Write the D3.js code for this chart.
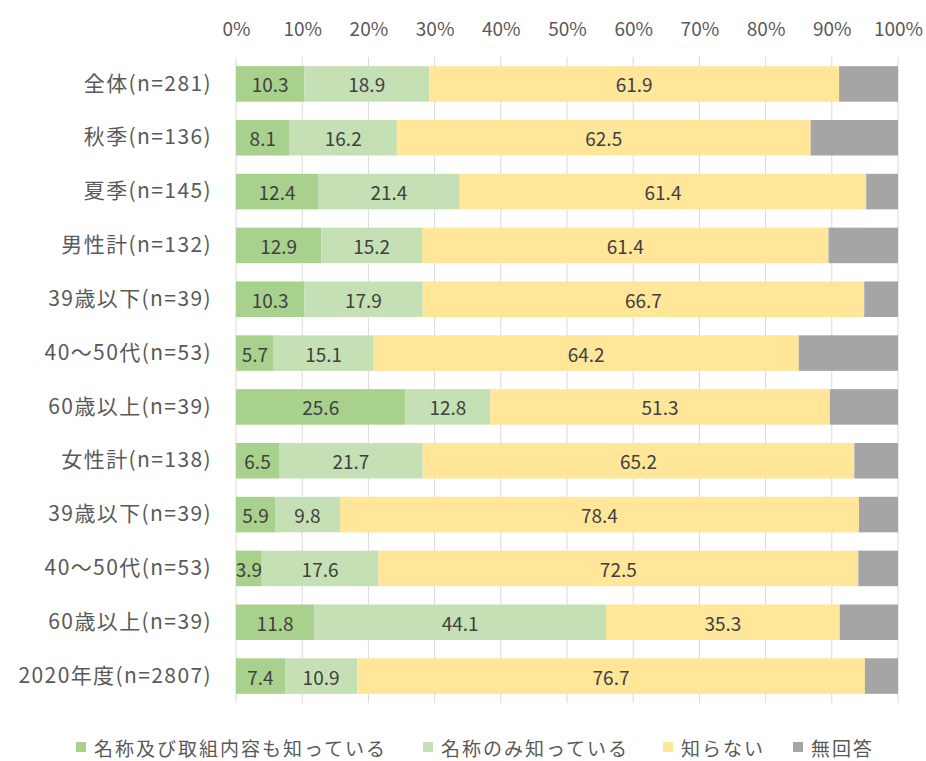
<!DOCTYPE html>
<html>
<head>
<meta charset="utf-8">
<script src="https://cdn.jsdelivr.net/npm/d3@7"></script>
<style>
  html, body { margin: 0; padding: 0; background: #ffffff; }
  svg text { font-family: "Noto Sans CJK JP", "Noto Sans", sans-serif; }
</style>
</head>
<body>
<svg id="chart" width="926" height="761"></svg>
<script>
// Survey groups (top to bottom)
const categories = [
  "全体(n=281)", "秋季(n=136)", "夏季(n=145)", "男性計(n=132)",
  "39歳以下(n=39)", "40～50代(n=53)", "60歳以上(n=39)", "女性計(n=138)",
  "39歳以下(n=39)", "40～50代(n=53)", "60歳以上(n=39)", "2020年度(n=2807)"
];

// Answer shares (%) per group
const knowsNameAndContent = [10.3, 8.1, 12.4, 12.9, 10.3, 5.7, 25.6, 6.5, 5.9, 3.9, 11.8, 7.4];
const knowsNameOnly       = [18.9, 16.2, 21.4, 15.2, 17.9, 15.1, 12.8, 21.7, 9.8, 17.6, 44.1, 10.9];
const doesNotKnow         = [61.9, 62.5, 61.4, 61.4, 66.7, 64.2, 51.3, 65.2, 78.4, 72.5, 35.3, 76.7];
const noAnswer            = [8.9, 13.2, 4.8, 10.5, 5.1, 15.0, 10.3, 6.6, 5.9, 6.0, 8.8, 5.0];

const seriesNames = ["名称及び取組内容も知っている", "名称のみ知っている", "知らない", "無回答"];
const seriesColors = ["#a9d18e", "#c5e0b4", "#ffe699", "#a5a5a5"];
const seriesLabeled = [true, true, true, false];
const tickValues = [0, 10, 20, 30, 40, 50, 60, 70, 80, 90, 100];

const seriesValues = [knowsNameAndContent, knowsNameOnly, doesNotKnow, noAnswer];

const svg = d3.select("#chart");
const plot = { left: 236, right: 898, top: 57, bottom: 703 };

const x = d3.scaleLinear().domain([0, 100]).range([plot.left, plot.right]);
const y = d3.scaleBand()
  .domain(d3.range(categories.length))
  .range([plot.top, plot.bottom])
  .paddingInner(0.34)
  .paddingOuter(0.17);

// Stacked segments
const rows = categories.map((c, i) => {
  const r = { idx: i };
  seriesNames.forEach((s, k) => { r[k] = seriesValues[k][i]; });
  return r;
});
const stack = d3.stack().keys(d3.range(seriesNames.length));
const layers = stack(rows);

// Vertical gridlines
svg.append("g")
  .attr("class", "grid")
  .selectAll("line")
  .data(tickValues)
  .join("line")
  .attr("x1", d => x(d)).attr("x2", d => x(d))
  .attr("y1", plot.top).attr("y2", plot.bottom)
  .attr("stroke", "#d9d9d9")
  .attr("stroke-width", 1);

// Tick labels along the top
const xAxis = d3.axisTop(x)
  .tickValues(tickValues)
  .tickFormat(d => d + "%")
  .tickSize(0)
  .tickPadding(0);
const axisG = svg.append("g")
  .attr("transform", `translate(0, 36)`)
  .call(xAxis);
axisG.select(".domain").remove();
axisG.selectAll("text")
  .attr("fill", "#595959")
  .style("font-size", "19px");

// Bars
const barsG = svg.append("g");
layers.forEach((layer, k) => {
  barsG.append("g")
    .attr("fill", seriesColors[k])
    .selectAll("rect")
    .data(layer)
    .join("rect")
    .attr("x", d => x(d[0]))
    .attr("width", d => x(d[1]) - x(d[0]))
    .attr("y", (d, i) => y(i))
    .attr("height", y.bandwidth());
});

// Clip labels to the plot area
svg.append("clipPath").attr("id", "plotClip")
  .append("rect")
  .attr("x", plot.left).attr("y", 0)
  .attr("width", plot.right - plot.left).attr("height", 761);

const labelsG = svg.append("g").attr("clip-path", "url(#plotClip)");
layers.forEach((layer, k) => {
  if (!seriesLabeled[k]) return;
  labelsG.append("g")
    .selectAll("text")
    .data(layer)
    .join("text")
    .attr("x", d => (x(d[0]) + x(d[1])) / 2)
    .attr("y", (d, i) => y(i) + y.bandwidth() / 2)
    .attr("text-anchor", "middle")
    .attr("dominant-baseline", "central")
    .attr("fill", "#404040")
    .style("font-size", "19px")
    .text((d, i) => seriesValues[k][i].toFixed(1));
});

// Category labels
const yAxis = d3.axisLeft(y)
  .tickFormat(i => categories[i])
  .tickSize(0)
  .tickPadding(0);
const yG = svg.append("g")
  .attr("transform", `translate(${plot.left - 24}, 0)`)
  .call(yAxis);
yG.select(".domain").remove();
yG.selectAll("text")
  .attr("fill", "#595959")
  .style("font-size", "21px")
  .style("letter-spacing", "1.4px");

// Legend
const legendX = [76, 423, 663, 793];
const legend = svg.append("g").attr("transform", "translate(0, 747)");
seriesNames.forEach((name, k) => {
  const g = legend.append("g").attr("transform", `translate(${legendX[k]}, 0)`);
  g.append("rect")
    .attr("x", 0).attr("y", -5)
    .attr("width", 10).attr("height", 10)
    .attr("fill", seriesColors[k]);
  g.append("text")
    .attr("x", 18).attr("y", 0)
    .attr("dominant-baseline", "central")
    .attr("fill", "#595959")
    .style("font-size", "19px")
    .style("letter-spacing", "2px")
    .text(name);
});
</script>
</body>
</html>
